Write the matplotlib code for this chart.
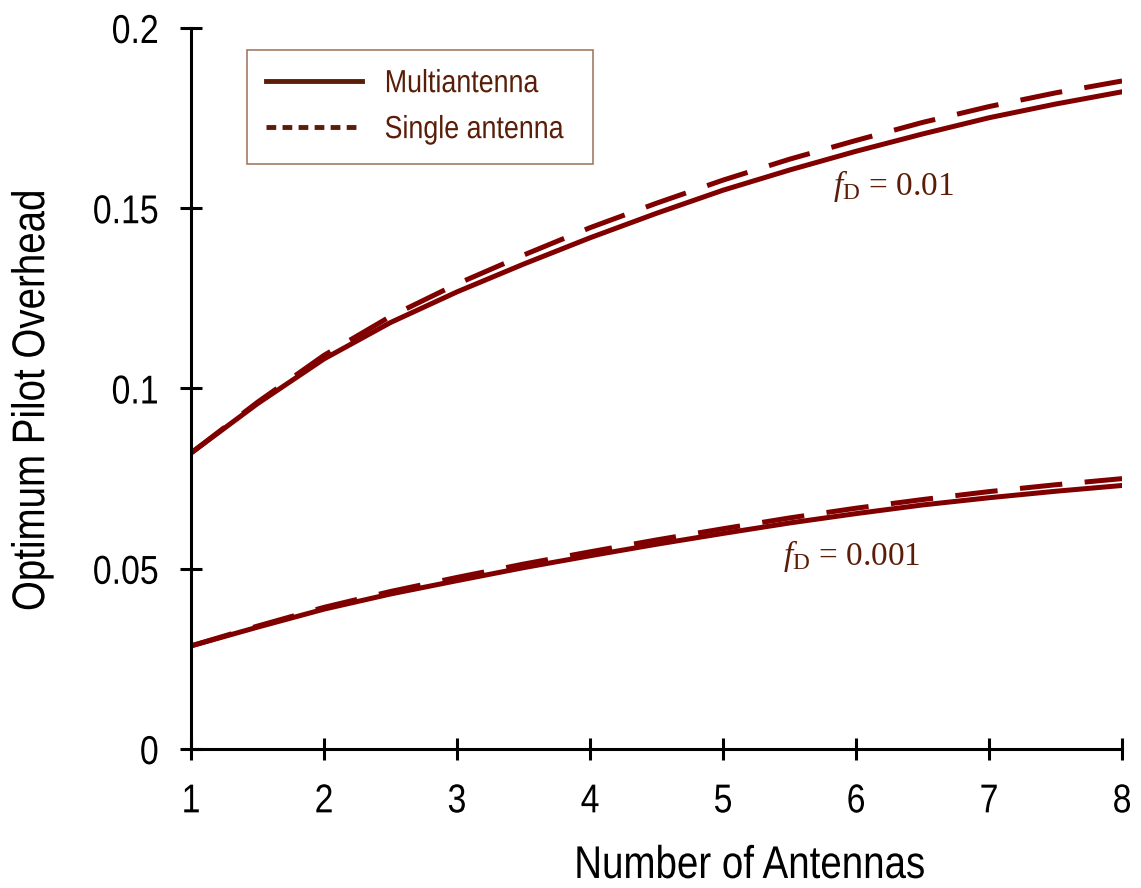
import numpy as np
import matplotlib
matplotlib.use("Agg")
import matplotlib.pyplot as plt
from matplotlib import patheffects
from matplotlib.transforms import Affine2D

# optimum pilot overhead vs number of antennas, two Doppler settings
antennas = [1, 1.5, 2, 2.5, 3, 3.5, 4, 4.5, 5, 5.5, 6, 6.5, 7, 7.5, 8]
multi_fd01 = [0.0821, 0.0958, 0.1082, 0.1183, 0.1268, 0.1345, 0.1418, 0.1486,
              0.1550, 0.1606, 0.1658, 0.1706, 0.1751, 0.1789, 0.1823]
single_fd01 = [0.0821, 0.0962, 0.1092, 0.1200, 0.1290, 0.1370, 0.1446, 0.1514,
               0.1578, 0.1636, 0.1688, 0.1738, 0.1782, 0.1820, 0.1853]
multi_fd001 = [0.0286, 0.0338, 0.0388, 0.0430, 0.0467, 0.0503, 0.0536, 0.0568,
               0.0598, 0.0627, 0.0653, 0.0677, 0.0697, 0.0715, 0.0731]
single_fd001 = [0.0286, 0.0341, 0.0393, 0.0437, 0.0476, 0.0513, 0.0547, 0.0580,
                0.0611, 0.0641, 0.0668, 0.0692, 0.0714, 0.0733, 0.0750]
ytick_vals = [0, 0.05, 0.1, 0.15, 0.2]
ytick_text = ["0", "0.05", "0.1", "0.15", "0.2"]


class Narrow(patheffects.AbstractPathEffect):
    """Squeeze glyphs horizontally (no condensed sans installed)."""

    def __init__(self, sx=0.84, anchor=0.5):
        super().__init__()
        self.sx, self.anchor = sx, anchor

    def draw_path(self, renderer, gc, tpath, affine, rgbFace=None):
        ext = tpath.get_extents()
        cx = ext.x0 + self.anchor * ext.width
        squeeze = Affine2D().translate(-cx, 0).scale(self.sx, 1).translate(cx, 0)
        renderer.draw_path(gc, tpath, squeeze + affine, rgbFace)


plt.rcParams["font.family"] = ["Liberation Sans", "DejaVu Sans"]
plt.rcParams["mathtext.fontset"] = "custom"
plt.rcParams["mathtext.rm"] = "Liberation Serif"
plt.rcParams["mathtext.it"] = "Liberation Serif:italic"

LINE = "#800000"
BROWN = "#5a1e08"

fig = plt.figure(figsize=(11.41, 8.88), dpi=100)
ax = fig.add_axes([0.1674, 0.1565, 0.816, 0.812])

for multi, single in ((multi_fd01, single_fd01), (multi_fd001, single_fd001)):
    ax.plot(antennas, multi, color=LINE, lw=3.6, solid_joinstyle="round")
    ax.plot(antennas, single, color=LINE, lw=3.6, dashes=(8.5, 4.5))

ax.set_xlim(1, 8)
ax.set_ylim(0, 0.2)
ax.set_xticks(range(1, 9))
ax.set_yticks(ytick_vals)
ax.set_yticklabels(ytick_text)
for s in ("top", "right"):
    ax.spines[s].set_visible(False)
for s in ("left", "bottom"):
    ax.spines[s].set_linewidth(2.2)
    ax.spines[s].set_clip_on(False)
ax.tick_params(direction="inout", length=16, width=2.2, labelsize=29)
ax.tick_params(axis="y", pad=15)
ax.tick_params(axis="x", pad=16)
xl = ax.set_xlabel("Number of Antennas", fontsize=33, labelpad=17)
yl = ax.set_ylabel("Optimum Pilot Overhead", fontsize=33, labelpad=19)
xl.set_x(0.6)
yl.set_y(0.484)

for lab in ax.get_yticklabels():
    lab.set_path_effects([Narrow(anchor=1.0)])
for lab in ax.get_xticklabels():
    lab.set_path_effects([Narrow(anchor=0.5)])
xl.set_path_effects([Narrow(anchor=0.5)])
yl.set_path_effects([Narrow(anchor=0.5)])

ax.text(5.83, 0.1537, r"$f_{\mathrm{D}}$ = 0.01", fontsize=24, color=BROWN,
        family="Liberation Serif")
ax.text(5.45, 0.051, r"$f_{\mathrm{D}}$ = 0.001", fontsize=24, color=BROWN,
        family="Liberation Serif")

# legend drawn with proxy lines in the darker brown
h1, = ax.plot([], [], color=BROWN, lw=3.5, label="Multiantenna")
h2, = ax.plot([], [], color=BROWN, lw=3.5, dashes=(2.0, 1.3), label="Single antenna")
leg = ax.legend(handles=[h1, h2], loc="upper left", mode="expand",
                bbox_to_anchor=(0.0601, 0.5, 0.3716, 0.4695), borderaxespad=0,
                fontsize=23, frameon=True, fancybox=False, handlelength=3.0,
                handletextpad=0.7, borderpad=0.6, labelspacing=0.5)
leg.get_frame().set_edgecolor("#8b5a3c")
leg.get_frame().set_linewidth(1.2)
for t in leg.get_texts():
    t.set_color(BROWN)
    t.set_path_effects([Narrow(anchor=0.0)])

fig.savefig("out.png", dpi=100)
